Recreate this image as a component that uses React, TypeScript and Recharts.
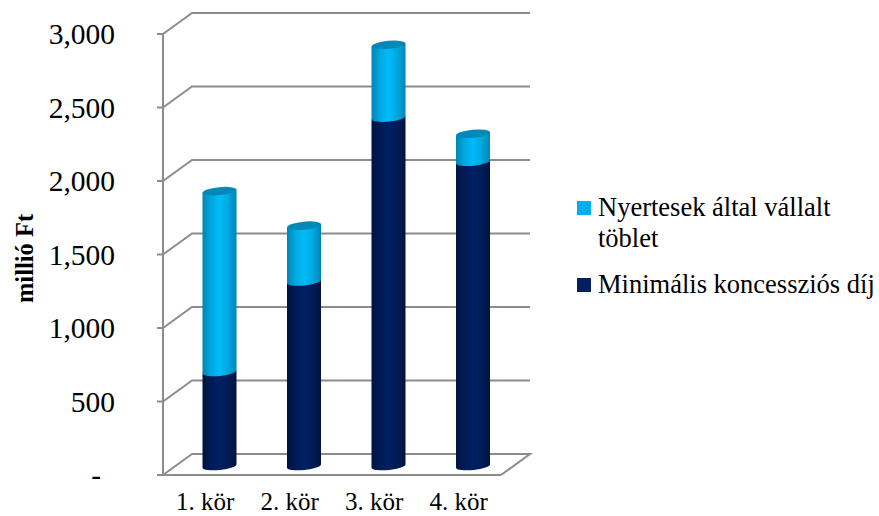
import { BarChart, Bar, XAxis, YAxis, CartesianGrid, Legend } from "recharts";

const rounds = ["1. kör", "2. kör", "3. kör", "4. kör"];
const minimumFee = [640, 1255, 2370, 2070];
const surplus = [1230, 380, 495, 190];
const yTicks = [0, 500, 1000, 1500, 2000, 2500, 3000];
const legendNames = ["Nyertesek által vállalt töblet", "Minimális koncessziós díj"];
const legendColors = ["#00aeef", "#002060"];

const data = rounds.map((round, i) => ({
  round,
  minimum: minimumFee[i],
  surplus: surplus[i],
}));

const FONT = '"Liberation Serif", "Times New Roman", serif';
const AXIS_COLOR = "#8c8c8c";
// 3D look: how far the back wall sits from the front plane
const DEPTH_X = 29;
const DEPTH_Y = 21;
// the cylinders stand halfway into the floor
const BAR_DX = 14.5;
const BAR_DY = -9;
const RY = 4;
const TILT = -5.5;

const formatTick = (v: number) => (v === 0 ? "-" : v.toLocaleString("en-US"));

function gridLine(props: any) {
  const { x1, y1, x2, index } = props;
  const bx = x1 + DEPTH_X;
  const by = y1 - DEPTH_Y;
  let d = `M${x1},${y1} L${bx},${by} L${x2 + DEPTH_X},${by}`;
  // the lowest line also closes the floor on the right
  if (Math.abs(y1 - 475) < 1) d += ` L${x2},${y1}`;
  return <path key={index} d={d} fill="none" stroke={AXIS_COLOR} strokeWidth={2} />;
}

function Cylinder(props: any) {
  const { x, y, width, height, gradient, topColor, hasTop } = props;
  if (!height) return null;
  const left = x + BAR_DX;
  const right = left + width;
  const cx = left + width / 2;
  const top = y + BAR_DY;
  const bottom = top + height;
  const rx = width / 2;
  const lift = 1.7;
  const d =
    `M${left},${top + lift} L${right},${top - lift} L${right},${bottom - lift} ` +
    `A${rx},${RY} ${TILT} 0 1 ${left},${bottom + lift} Z`;
  return (
    <g>
      <path d={d} fill={`url(#${gradient})`} />
      {hasTop && (
        <ellipse cx={cx} cy={top} rx={rx} ry={RY} fill={topColor} transform={`rotate(${TILT} ${cx} ${top})`} />
      )}
    </g>
  );
}

function YTick(props: any) {
  const { x, y, payload } = props;
  return (
    <text x={payload.value === 0 ? x - 54 : x - 40} y={y + 10} textAnchor="end" fontFamily={FONT} fontSize={29.5} fill="#000">
      {formatTick(payload.value)}
    </text>
  );
}

function AxisTitle(props: any) {
  const { viewBox } = props;
  const cy = viewBox.y + viewBox.height / 2 + 4;
  return (
    <text
      x={33}
      y={cy}
      transform={`rotate(-90 33 ${cy})`}
      textAnchor="middle"
      fontFamily={FONT}
      fontSize={24.5}
      fontWeight="bold"
      fill="#000"
    >
      millió Ft
    </text>
  );
}

function renderLegend() {
  return (
    <div style={{ fontFamily: FONT, fontSize: 26.5, lineHeight: "31px", color: "#000", width: 298 }}>
      {legendNames.map((name, i) => (
        <div
          key={name}
          style={{
            position: "relative",
            paddingLeft: 21,
            width: i === 0 ? 260 : 298,
            whiteSpace: i === 0 ? "normal" : "nowrap",
            marginBottom: i === 0 ? 15 : 0,
          }}
        >
          <span
            style={{
              position: "absolute",
              left: 0,
              top: 9,
              width: 14,
              height: 14,
              background: legendColors[i],
            }}
          />
          {name}
        </div>
      ))}
    </div>
  );
}

export default function App() {
  return (
    <div style={{ position: "absolute", left: 0, top: 0, width: 879, height: 516, background: "#fff" }}>
      <BarChart
        width={879}
        height={516}
        data={data}
        margin={{ top: 34, right: 378, bottom: 0, left: 0 }}
        barSize={34}
      >
        <defs>
          <linearGradient id="lightCyl" x1="0" y1="0" x2="1" y2="0">
            <stop offset="0" stopColor="#0085b5" />
            <stop offset="0.25" stopColor="#00a8e0" />
            <stop offset="0.5" stopColor="#00bcf9" />
            <stop offset="0.75" stopColor="#00a8e0" />
            <stop offset="1" stopColor="#0085b5" />
          </linearGradient>
          <linearGradient id="darkCyl" x1="0" y1="0" x2="1" y2="0">
            <stop offset="0" stopColor="#001340" />
            <stop offset="0.3" stopColor="#001c58" />
            <stop offset="0.5" stopColor="#002062" />
            <stop offset="0.75" stopColor="#001c58" />
            <stop offset="1" stopColor="#001340" />
          </linearGradient>
        </defs>
        <CartesianGrid vertical={false} horizontal={gridLine} />
        <XAxis
          dataKey="round"
          height={41}
          axisLine={{ stroke: AXIS_COLOR, strokeWidth: 2 }}
          tickLine={false}
          interval={0}
          tick={{ fontFamily: FONT, fontSize: 25, fill: "#000" }}
          tickMargin={11}
        />
        <YAxis
          type="number"
          domain={[0, 3000]}
          ticks={yTicks}
          width={163}
          interval={0}
          axisLine={{ stroke: AXIS_COLOR, strokeWidth: 2 }}
          tickLine={{ stroke: AXIS_COLOR, strokeWidth: 2 }}
          tickSize={6}
          tick={<YTick />}
          label={{ value: "millió Ft", content: <AxisTitle /> }}
        />
        <Legend
          layout="vertical"
          align="center"
          verticalAlign="middle"
          content={renderLegend}
          wrapperStyle={{ left: 577, top: 192, width: 300 }}
        />
        <Bar
          dataKey="minimum"
          name={legendNames[1]}
          stackId="a"
          isAnimationActive={false}
          shape={<Cylinder gradient="darkCyl" topColor="#001c58" hasTop={false} />}
        />
        <Bar
          dataKey="surplus"
          name={legendNames[0]}
          stackId="a"
          isAnimationActive={false}
          shape={<Cylinder gradient="lightCyl" topColor="#0088b8" hasTop />}
        />
      </BarChart>
    </div>
  );
}
